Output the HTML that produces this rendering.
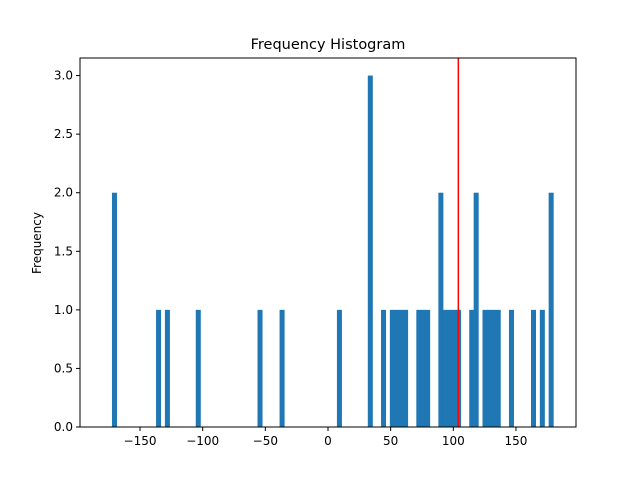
<!DOCTYPE html>
<html><head><meta charset="utf-8"><style>
body{margin:0;background:#fff}
svg{display:block;font-family:"DejaVu Sans","Liberation Sans",sans-serif}
</style></head><body>
<svg id="chart" width="640" height="480" viewBox="0 0 640 480" xmlns="http://www.w3.org/2000/svg">
<rect width="640" height="480" fill="#fff"/>
<text x="328" y="49" text-anchor="middle" font-size="14.5" fill="#000">Frequency Histogram</text>
<text transform="translate(41,243) rotate(-90)" text-anchor="middle" font-size="12" fill="#000">Frequency</text>
<g id="bars"></g>
<g id="axes"></g>
</svg>
<script>
const dataMin = -172.4;
const dataMax = 179.6;
const numBins = 100;
const binIndices = [0,10,12,19,33,38,51,58,61,63,64,65,66,69,70,71,74,75,76,77,78,81,82,84,85,86,87,90,95,97,99];
const binCounts  = [2,1,1,1,1,1,1,3,1,1,1,1,1,1,1,1,2,1,1,1,1,1,2,1,1,1,1,1,1,1,2];
const meanLine = 104;
const xTicks = [-150,-100,-50,0,50,100,150];
const yTicks = [0,0.5,1,1.5,2,2.5,3];
const yTickLabels = ["0.0","0.5","1.0","1.5","2.0","2.5","3.0"];

const L=80,R=576,T=58,B=427;
const xMin=-197.9,xMax=197.9,yMin=0,yMax=3.15;
const sx=v=>L+(v-xMin)/(xMax-xMin)*(R-L);
const sy=v=>B-(v-yMin)/(yMax-yMin)*(B-T);
const NS="http://www.w3.org/2000/svg";
const bars=document.getElementById('bars');
const axes=document.getElementById('axes');
const w=(dataMax-dataMin)/numBins;
binIndices.forEach((bi,k)=>{
  const x0=sx(dataMin+bi*w), x1=sx(dataMin+(bi+1)*w);
  const r=document.createElementNS(NS,'rect');
  r.setAttribute('x',x0);r.setAttribute('width',x1-x0+0.6);
  r.setAttribute('y',sy(binCounts[k]));r.setAttribute('height',sy(0)-sy(binCounts[k]));
  r.setAttribute('fill','#1f77b4');
  
  
  bars.appendChild(r);
});
const ml=document.createElementNS(NS,'line');
ml.setAttribute('x1',sx(meanLine));ml.setAttribute('x2',sx(meanLine));
ml.setAttribute('y1',T);ml.setAttribute('y2',B);
ml.setAttribute('stroke','#ff0000');ml.setAttribute('stroke-width','1.5');


bars.appendChild(ml);
const frame=document.createElementNS(NS,'rect');
frame.setAttribute('x',L);frame.setAttribute('y',T);frame.setAttribute('width',R-L);frame.setAttribute('height',B-T);
frame.setAttribute('fill','none');frame.setAttribute('stroke','#000');frame.setAttribute('stroke-width','1');


axes.appendChild(frame);
xTicks.forEach(v=>{
  const x=sx(v);
  const t=document.createElementNS(NS,'line');
  t.setAttribute('x1',x);t.setAttribute('x2',x);t.setAttribute('y1',B);t.setAttribute('y2',B+4);t.setAttribute('stroke','#000');
  
  
  axes.appendChild(t);
  const tx=document.createElementNS(NS,'text');
  tx.setAttribute('x',x);tx.setAttribute('y',B+18);tx.setAttribute('text-anchor','middle');tx.setAttribute('font-size','12');
  tx.textContent=v<0?'\u2212'+Math.abs(v):String(v);
  
  
  axes.appendChild(tx);
});
yTicks.forEach((v,i)=>{
  const y=sy(v);
  const t=document.createElementNS(NS,'line');
  t.setAttribute('x1',L-4);t.setAttribute('x2',L);t.setAttribute('y1',y);t.setAttribute('y2',y);t.setAttribute('stroke','#000');
  
  
  axes.appendChild(t);
  const tx=document.createElementNS(NS,'text');
  tx.setAttribute('x',L-7);tx.setAttribute('y',y+4);tx.setAttribute('text-anchor','end');tx.setAttribute('font-size','12');
  tx.textContent=yTickLabels[i];
  
  
  axes.appendChild(tx);
});
</script>
</body></html>
